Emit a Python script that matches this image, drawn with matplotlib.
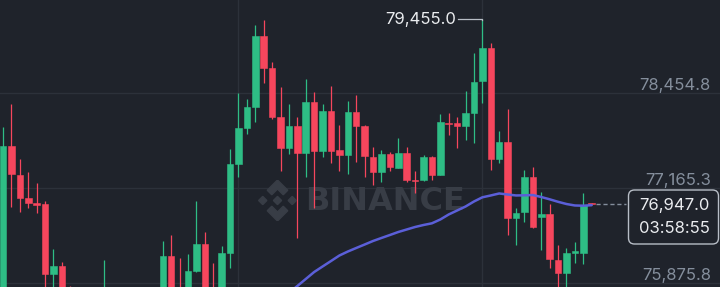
import matplotlib.pyplot as plt
from matplotlib.patches import FancyBboxPatch, Polygon
from matplotlib.transforms import IdentityTransform, blended_transform_factory

# 1-minute style candles (index 0 = left edge)
opens = [75645, 77735, 77345, 77026, 76955, 76944, 75994, 76111, 75790, 75640,
         75480, 75560, 75500, 75760, 75580, 75450, 75590, 75700, 75560, 75700,
         76242, 75800, 75790, 76039, 76401, 75800, 75790, 76279, 77487, 77976,
         78261, 79233, 78790, 78133, 77704, 78007, 77644, 78329, 77668, 78215,
         77681, 77613, 78193, 78007, 77590, 77387, 77627, 77441, 77636, 77280,
         77274, 77582, 77342, 78050, 78043, 78007, 78179, 78618, 79062, 77555,
         77794, 76754, 76844, 77319, 76768, 76812, 76188, 76016, 76287, 76287,
         76960]
highs = [77993, 78301, 77559, 77378, 77229, 76993, 76333, 76157, 75835, 75700,
         75610, 75720, 76188, 75800, 75700, 75620, 75780, 75790, 75760, 76446,
         76527, 76219, 76265, 76989, 76564, 76143, 76382, 77695, 78451, 78373,
         79378, 79446, 78872, 78532, 78306, 78133, 78645, 78464, 78301, 78550,
         78020, 78350, 78428, 78020, 77726, 77681, 77650, 77848, 77718, 77400,
         77613, 77604, 78166, 78179, 78133, 78482, 78994, 79455, 79129, 77943,
         78234, 76890, 77410, 77446, 77115, 76948, 76392, 76347, 76436, 77093,
         76962]
lows = [75600, 76912, 76844, 76898, 76822, 75700, 75720, 75600, 75560, 75420,
        75380, 75450, 75440, 75520, 75400, 75350, 75500, 75520, 75480, 75620,
        75600, 75650, 75700, 76021, 75700, 75650, 75700, 76075, 77319, 77894,
        78057, 78587, 78102, 77400, 77623, 76491, 77319, 76890, 77590, 77501,
        77400, 77355, 77514, 77311, 77206, 77251, 77400, 77437, 77251, 77102,
        77264, 77274, 77335, 77885, 77712, 77817, 77772, 78323, 77410, 77501,
        76527, 76392, 76708, 76626, 76324, 76075, 75780, 75790, 76143, 76130,
        76944]
closes = [77735, 77351, 77026, 76958, 76941, 75994, 76111, 75700, 75640, 75480,
          75560, 75500, 75760, 75580, 75450, 75590, 75700, 75560, 75700, 76242,
          75700, 75750, 76039, 76401, 75780, 75760, 76279, 77487, 77980, 78261,
          79233, 78790, 78125, 77704, 78007, 77644, 78329, 77668, 78215, 77672,
          77613, 78193, 78007, 77600, 77387, 77627, 77454, 77636, 77274, 77267,
          77590, 77342, 78057, 78036, 78011, 78179, 78608, 79062, 77555, 77794,
          76754, 76830, 77319, 76632, 76812, 76198, 76016, 76279, 76314, 76935,
          76947]

# moving average (longer window, only its visible part), starts at candle 34
ma_start = 34
ma_values = [75740, 75835, 75930, 76025, 76100, 76174, 76249, 76303, 76351, 76398,
             76446, 76487, 76527, 76568, 76602, 76636, 76663, 76686, 76738, 76806,
             76860, 76914, 76982, 77039, 77064, 77091, 77077, 77064, 77066, 77070,
             77043, 77012, 76978, 76948, 76928, 76925, 76932]

grid_prices = [78454.8, 77165.3, 75875.8]
grid_candles = [28, 57]
high_label = 79455.0
last_price = 76947.0
countdown = "03:58:55"

BG = "#1f232b"
GRID = "#2c313a"
UP = "#2ebd85"
DOWN = "#f6465d"
MA = "#5b5fd8"
TXT = "#848e9c"
WHITE = "#eaecef"
WM = "#383d46"

W, H = 720, 287
fig = plt.figure(figsize=(W / 100, H / 100), dpi=100, facecolor=BG)
ax = fig.add_axes([0, 0, 1, 1])
ax.set_facecolor(BG)
for s in ax.spines.values():
    s.set_visible(False)
ax.set_xticks([])
ax.set_yticks([])

# pixel x = 3 + 8.41 * i ; price scale 13.574 per pixel
ax.set_xlim(-3 / 8.41, (W - 3) / 8.41)
ax.set_ylim(79717.2 - 13.574 * H, 79717.2)

for p in grid_prices:
    ax.axhline(p, color=GRID, lw=1, zorder=0)
for c in grid_candles:
    ax.axvline(c, color=GRID, lw=1, zorder=0)

# watermark
ax.text(305 / W, 1 - 201 / H, "BINANCE", transform=ax.transAxes, ha="left", va="center",
        fontsize=23, fontweight="bold", color=WM, family="DejaVu Sans", zorder=1)
lax = fig.add_axes([257 / W, 1 - 221 / H, 41 / W, 41 / H])
lax.set_xlim(-1, 1)
lax.set_ylim(-1, 1)
lax.axis("off")
for cx in (-0.72, 0.0, 0.72):
    lax.add_patch(Polygon([(cx, 0.2), (cx + 0.2, 0), (cx, -0.2), (cx - 0.2, 0)], color=WM))
for sgn in (1, -1):
    lax.add_patch(Polygon([(0, sgn * 1.0), (sgn * 0.5, sgn * 0.5), (sgn * 0.28, sgn * 0.28),
                           (0, sgn * 0.56), (-sgn * 0.28, sgn * 0.28), (-sgn * 0.5, sgn * 0.5)],
                          color=WM))

# candles
for i, (o, h, l, c) in enumerate(zip(opens, highs, lows, closes)):
    col = UP if c >= o else DOWN
    ax.vlines(i, l, h, color=col, lw=0.9, zorder=2)
    ax.bar(i, max(abs(c - o), 10), bottom=min(o, c), width=0.78, color=col,
           edgecolor=col, lw=0.4, zorder=3)

ax.plot(range(ma_start, ma_start + len(ma_values)), ma_values, color=MA, lw=1.8,
        zorder=4, solid_capstyle="round")

# right price scale labels
trans = blended_transform_factory(ax.transAxes, ax.transData)
for p in grid_prices:
    ax.annotate(f"{p:,.1f}", (711 / W, p), xycoords=trans, xytext=(0, 3),
                textcoords="offset pixels", ha="right", va="baseline",
                fontsize=12, color=TXT, family="Inter")

# highest price marker
hi_idx = highs.index(max(highs))
ax.plot([hi_idx - 2.9, hi_idx, hi_idx], [high_label, high_label, high_label - 14],
        color="#b7bdc6", lw=0.9, zorder=5)
ax.annotate(f"{high_label:,.1f}", (hi_idx, high_label), xytext=(-26.5, 0),
            textcoords="offset pixels", ha="right", va="center",
            fontsize=12, color=WHITE, family="Inter", zorder=5)

# last price dashed line + box
last_i = len(closes) - 1
ax.plot([last_i + 0.5, (626 - 3) / 8.41], [last_price, last_price], color=TXT,
        lw=1, ls=(0, (3, 2)), zorder=5)
box = FancyBboxPatch((628.5, H - 244), 90, 54, boxstyle="round,pad=0,rounding_size=6",
                     transform=IdentityTransform(), fc=BG, ec="#b7bdc6", lw=1, zorder=6)
fig.patches.append(box)
box.set_figure(fig)
fig.text(674 / W, 1 - 205.5 / H, f"{last_price:,.1f}", ha="center", va="center",
         fontsize=12, color=WHITE, family="Inter", zorder=7)
fig.text(674 / W, 1 - 228.5 / H, countdown, ha="center", va="center",
         fontsize=12, color=WHITE, family="Inter", zorder=7)

fig.savefig("out.png", dpi=100, facecolor=BG)
